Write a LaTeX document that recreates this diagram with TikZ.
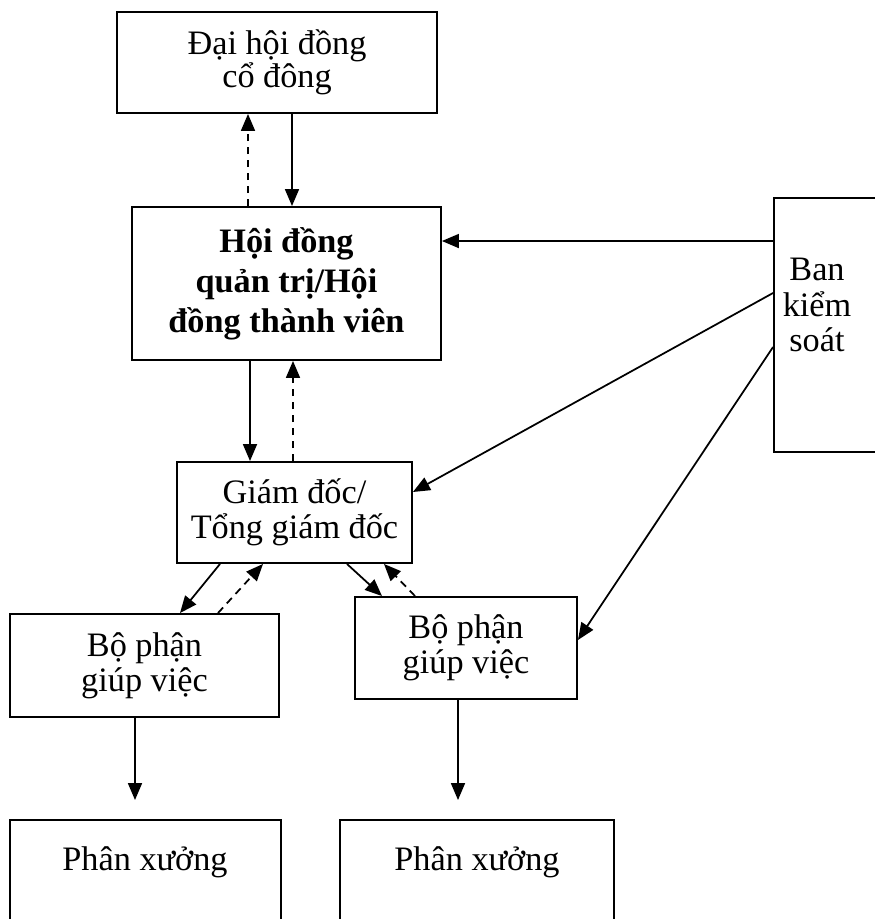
\documentclass[tikz,border=0pt]{standalone}
\usepackage{fontspec}
\setmainfont{Liberation Serif}
\usetikzlibrary{arrows.meta}

\begin{document}
\begin{tikzpicture}
    [x=0.02cm, y=-0.02cm,
    box/.style={draw, rectangle, line width=1.1pt, align=center, inner sep=0pt, font=\fontsize{19.5}{20}\selectfont},
    txt/.style={align=center, inner sep=0pt, font=\fontsize{19.5}{20}\selectfont},
    edge/.style={line width=1pt, -{Triangle[length=0.34cm, width=0.28cm]}},
    back/.style={edge, dash pattern=on 0.15cm off 0.11cm}]

    \useasboundingbox (0,0) rectangle (875,919);

    \node[box, minimum width=6.4cm, minimum height=2.02cm, font=\fontsize{19.5}{18.8}\selectfont] (dhd) at (277,62.5) {Đại hội đồng\\cổ đông};
    \node[box, minimum width=6.18cm, minimum height=3.06cm, font=\bfseries\fontsize{19.5}{22.8}\selectfont] (hdqt) at (286.5,283.5) {Hội đồng\\quản trị/Hội\\đồng thành viên};
    \node[box, minimum width=2.04cm, minimum height=5.08cm] (bks) at (825,325) {};
    \node[box, minimum width=4.7cm, minimum height=2.02cm] (gd) at (294.5,512.5) {Giám đốc/\\Tổng giám đốc};
    \node[box, minimum width=5.38cm, minimum height=2.06cm] (bp1) at (144.5,665.5) {Bộ phận\\giúp việc};
    \node[box, minimum width=4.44cm, minimum height=2.04cm] (bp2) at (466,648) {Bộ phận\\giúp việc};
    \node[box, minimum width=5.42cm, minimum height=2.4cm] (px1) at (145.5,880) {};
    \node[box, minimum width=5.48cm, minimum height=2.4cm] (px2) at (477,880) {};

    % Texts placed off-centre in their boxes
    \node[txt] (bkstext) at (817,305) {Ban\\kiểm\\soát};
    \node[txt] (px1text) at (145,862) {Phân xưởng};
    \node[txt] (px2text) at (477,862) {Phân xưởng};

    % Between the general meeting and the board
    \draw[edge] ([xshift=0.3cm]dhd.south) -- ([xshift=0.3cm]dhd.south |- hdqt.north);
    \draw[back] ([xshift=-0.58cm]dhd.south |- hdqt.north) -- ([xshift=-0.58cm]dhd.south);

    % Between the board and the director
    \draw[edge] ([xshift=-0.73cm]hdqt.south) -- ([xshift=-0.73cm]hdqt.south |- gd.north);
    \draw[back] ([xshift=0.13cm]hdqt.south |- gd.north) -- ([xshift=0.13cm]hdqt.south);

    % From the supervisory board
    \draw[edge] ([yshift=1.68cm]bks.west) -- ([yshift=1.68cm]bks.west -| hdqt.east);
    \draw[edge] ([yshift=0.64cm]bks.west) -- ([yshift=0.41cm]gd.east);
    \draw[edge] ([yshift=-0.44cm]bks.west) -- ([yshift=0.16cm]bp2.east);

    % Between the director and the assisting units
    \draw[edge] ([xshift=-1.49cm]gd.south) -- ([xshift=0.71cm]bp1.north);
    \draw[back] ([xshift=1.47cm]bp1.north) -- ([xshift=-0.63cm]gd.south);
    \draw[edge] ([xshift=1.05cm]gd.south) -- ([xshift=-1.68cm]bp2.north);
    \draw[back] ([xshift=-1.02cm]bp2.north) -- ([xshift=1.79cm]gd.south);

    % Down to the workshops
    \draw[edge, shorten >=0.38cm] ([xshift=-0.19cm]bp1.south) -- ([xshift=-0.19cm]bp1.south |- px1.north);
    \draw[edge, shorten >=0.38cm] ([xshift=-0.16cm]bp2.south) -- ([xshift=-0.16cm]bp2.south |- px2.north);

\end{tikzpicture}
\end{document}
